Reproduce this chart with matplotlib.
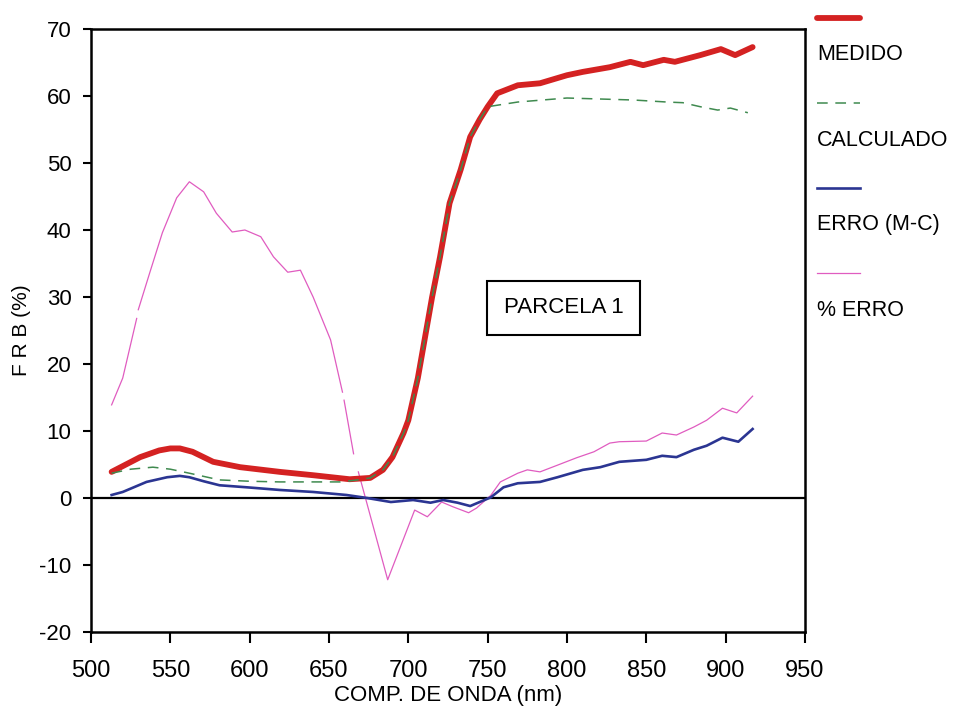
import numpy as np
import matplotlib.pyplot as plt
from matplotlib.lines import Line2D

plt.rcParams['font.family'] = ['Liberation Sans Narrow', 'Liberation Sans', 'DejaVu Sans']
plt.rcParams['axes.unicode_minus'] = False

# MEDIDO (medido)
wl_med = [513, 531, 543, 550, 556, 564, 577, 594, 619, 640, 663, 676, 684, 690, 697, 700,
          706, 715, 720, 726, 733, 739, 745, 750, 756, 769, 783, 800, 810, 827, 840, 848,
          861, 868, 884, 897, 906, 917]
medido = [3.9, 6.1, 7.1, 7.4, 7.4, 6.9, 5.4, 4.6, 3.9, 3.4, 2.8, 3.0, 4.2, 6.1, 9.7, 11.6,
          17.9, 30.0, 36.0, 44.0, 49.0, 53.9, 56.5, 58.4, 60.4, 61.6, 61.9, 63.1, 63.6, 64.3, 65.1, 64.6,
          65.4, 65.1, 66.1, 67.0, 66.1, 67.3]

# CALCULADO
wl_calc = [513, 525, 539, 550, 562, 581, 600, 619, 640, 657, 668, 676, 684, 690, 697, 700,
           706, 715, 720, 726, 733, 739, 745, 750, 769, 800, 842, 863, 873, 884, 895, 903, 914]
calculado = [3.7, 4.3, 4.6, 4.3, 3.7, 2.7, 2.5, 2.4, 2.4, 2.4, 2.7, 3.0, 4.2, 6.1, 9.7, 11.6,
             17.9, 30.0, 36.0, 44.0, 49.0, 53.9, 56.5, 58.4, 59.1, 59.7, 59.4, 59.1, 59.0, 58.4, 57.9, 58.2, 57.5]

# ERRO (M-C)
wl_erro = [513, 520, 535, 548, 556, 562, 571, 581, 598, 619, 640, 661, 674, 689, 703, 714,
           722, 731, 739, 745, 752, 760, 769, 783, 794, 810, 821, 833, 850, 860, 869, 880,
           888, 898, 908, 917]
erro = [0.45, 0.9, 2.4, 3.1, 3.3, 3.1, 2.5, 1.9, 1.6, 1.2, 0.9, 0.45, 0.0, -0.6, -0.3, -0.7,
        -0.3, -0.7, -1.2, -0.6, 0.1, 1.6, 2.2, 2.4, 3.1, 4.2, 4.6, 5.4, 5.7, 6.3, 6.1, 7.2,
        7.8, 9.0, 8.4, 10.3]

# % ERRO (nan = falhas no traco)
wl_perc = [513, 520, 528.8, 529.3, 529.8, 537, 545, 554, 562, 571, 579, 589, 597, 607, 615, 624,
           632, 640, 651, 658.5, 659.0, 659.5, 665.5, 667.0, 668.5, 687, 704, 712, 721, 728, 738, 743,
           752, 758, 769, 775, 783, 794, 806, 817, 827, 833, 850, 860, 869, 880, 888, 898,
           907, 917]
perc_erro = [13.9, 17.9, 26.8, np.nan, 28.1, 33.6, 39.6, 44.8, 47.2, 45.7, 42.5, 39.7, 40.0, 39.0, 36.0, 33.7,
             34.0, 30.0, 23.6, 15.8, np.nan, 14.6, 6.6, np.nan, 3.9, -12.2, -1.8, -2.8, -0.6, -1.3, -2.2, -1.5,
             0.4, 2.4, 3.7, 4.2, 3.9, 4.9, 6.0, 6.9, 8.2, 8.4, 8.5, 9.7, 9.4, 10.6, 11.6, 13.4,
             12.7, 15.2]

x_ticks = [500, 550, 600, 650, 700, 750, 800, 850, 900, 950]
y_ticks = [-20, -10, 0, 10, 20, 30, 40, 50, 60, 70]
labels = ['MEDIDO', 'CALCULADO', 'ERRO (M-C)', '% ERRO']

fig = plt.figure(figsize=(9.66, 7.09), dpi=100)
ax = fig.add_axes([0.0942, 0.1086, 0.7391, 0.8505])

st_med = dict(color='#d42222', lw=4.2, solid_capstyle='round')
st_calc = dict(color='#3f8a4f', lw=1.1, dashes=(7, 5))
st_erro = dict(color='#2b3592', lw=1.9)
st_perc = dict(color='#e05cc0', lw=0.9)

ax.axhline(0, color='black', lw=1.6, zorder=1)
ax.plot(wl_perc, perc_erro, **st_perc, zorder=2)
ax.plot(wl_erro, erro, **st_erro, zorder=3)
ax.plot(wl_med, medido, **st_med, zorder=4)
ax.plot(wl_calc, calculado, **st_calc, zorder=5)

ax.set_xlim(500, 950)
ax.set_ylim(-20, 70)
ax.set_xticks(x_ticks)
ax.set_yticks(y_ticks)
for s in ax.spines.values():
    s.set_linewidth(1.8)
ax.tick_params(axis='x', direction='out', length=8, width=1.5, pad=12, labelsize=17)
ax.tick_params(axis='y', direction='out', length=6, width=1.5, pad=8, labelsize=16)
for lab in ax.get_yticklabels():
    lab.set_family(['Liberation Sans', 'DejaVu Sans'])
ax.set_xlabel('COMP. DE ONDA (nm)', fontsize=16, labelpad=2)
ax.set_ylabel('F R B (%)', fontsize=15, labelpad=6, family=['Liberation Sans', 'DejaVu Sans'])

ax.text(798, 28.4, 'PARCELA 1', fontsize=16, ha='center', va='center',
        family=['Liberation Sans', 'DejaVu Sans'],
        bbox=dict(boxstyle='square,pad=0.75', fc='white', ec='black', lw=1.5))

# legenda manual a direita do grafico
styles = [st_med, st_calc, st_erro, st_perc]
for i, (lab, st) in enumerate(zip(labels, styles)):
    y_line = 1 - (18 + i * 85) / 709
    y_text = 1 - (55 + i * 85) / 709
    fig.add_artist(Line2D([817 / 966, 860 / 966], [y_line, y_line], transform=fig.transFigure, **st))
    fig.text(817 / 966, y_text, lab, fontsize=15.5, va='center', ha='left',
             family=['Liberation Sans', 'DejaVu Sans'])

fig.savefig('out.png', dpi=100)
